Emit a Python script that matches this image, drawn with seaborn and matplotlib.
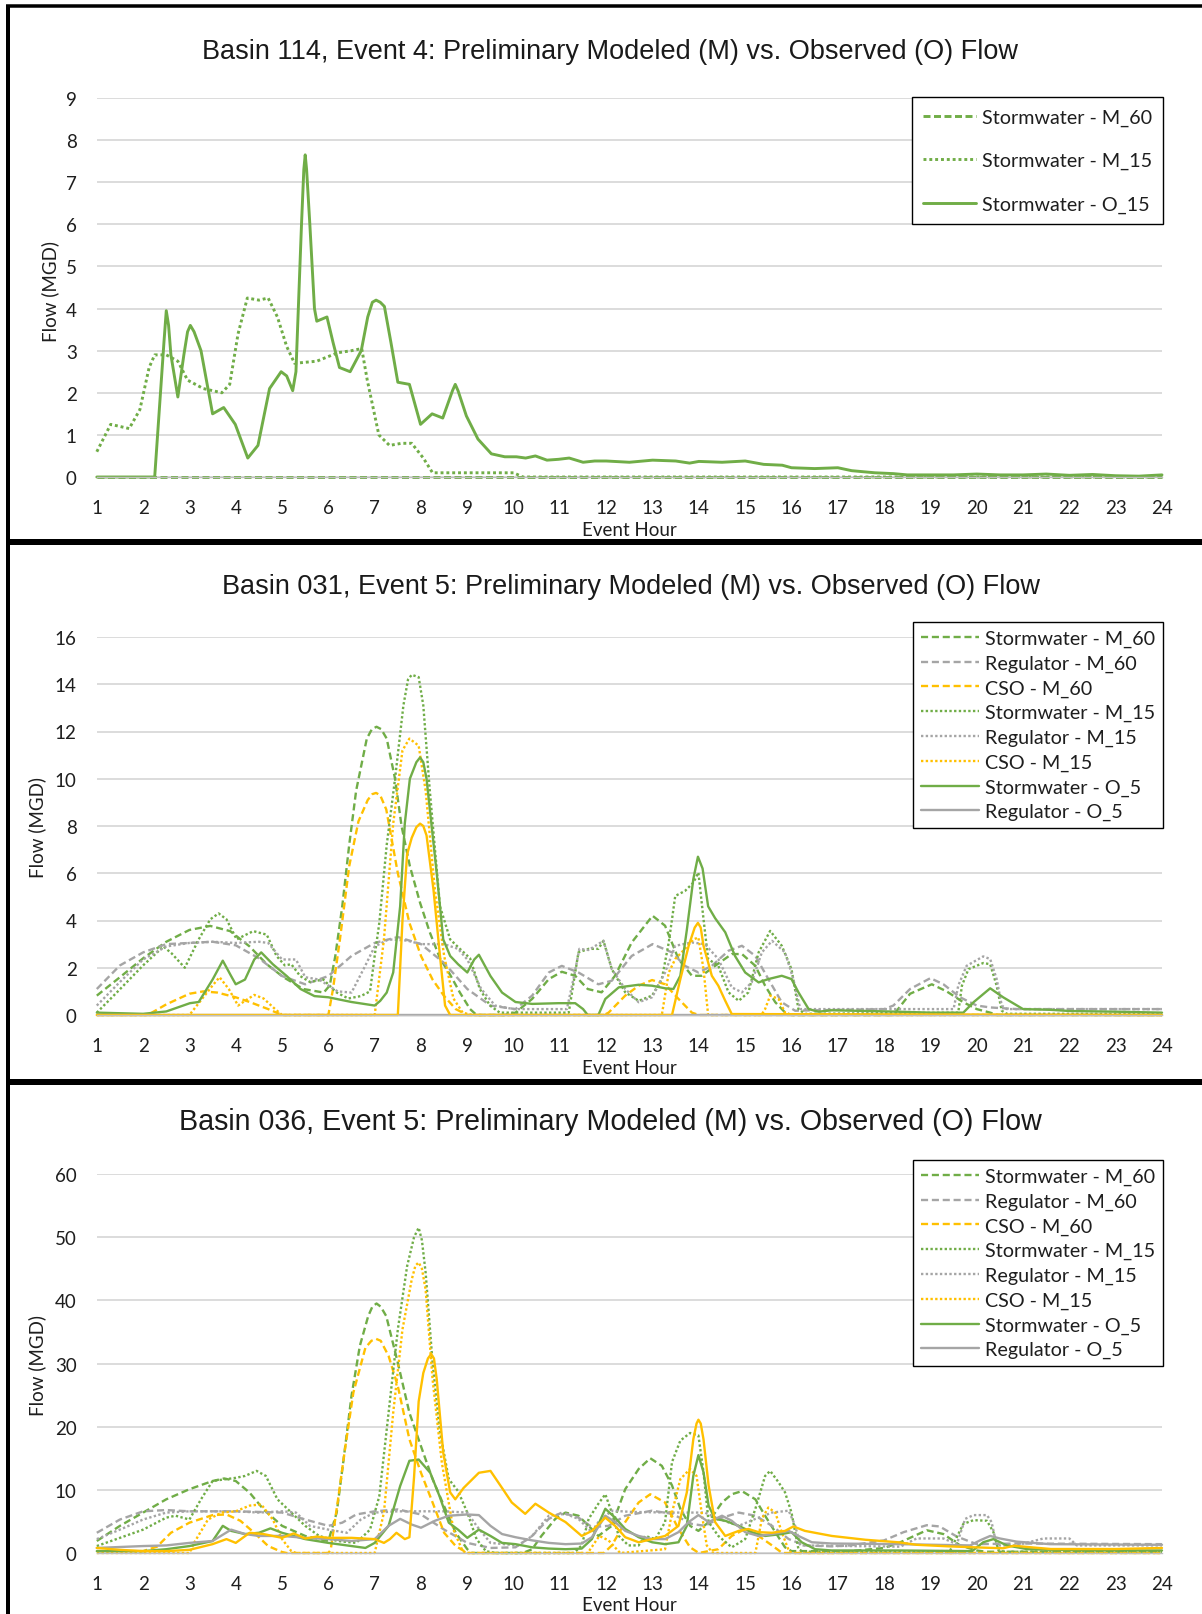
import matplotlib
matplotlib.use("Agg")
import matplotlib.pyplot as plt
from matplotlib.lines import Line2D
import seaborn as sns

# ---------------- Basin 114, Event 4 ----------------
B114_SW_M60_H = [1, 24]
B114_SW_M60_Q = [0, 0]

B114_SW_M15_H = [1, 1.3, 1.7, 1.93, 2.13, 2.25, 2.5, 2.75, 2.96, 3.3, 3.7, 3.87, 4.05, 4.25, 4.5, 4.7,
                 4.9, 5.1, 5.27, 5.75, 6.2, 6.5, 6.72, 6.84, 7.09, 7.32, 7.58, 7.8, 8.05, 8.25, 10.0,
                 10.2, 24]
B114_SW_M15_Q = [0.6, 1.25, 1.15, 1.6, 2.6, 2.9, 2.9, 2.75, 2.3, 2.1, 2.0, 2.2, 3.4, 4.25, 4.2, 4.25,
                 3.8, 3.1, 2.7, 2.75, 2.95, 3.0, 3.05, 2.3, 1.0, 0.75, 0.8, 0.8, 0.45, 0.1, 0.1,
                 0, 0]

B114_SW_O15_H = [1, 2.25, 2.45, 2.5, 2.55, 2.6, 2.75, 2.88, 2.96, 3.02, 3.1, 3.25, 3.5, 3.74, 3.99,
                 4.26, 4.48, 4.73, 4.98, 5.1, 5.23, 5.3, 5.42, 5.47, 5.5, 5.53, 5.6, 5.7, 5.75, 5.97,
                 6.1, 6.24, 6.47, 6.71, 6.85, 6.95, 7.03, 7.12, 7.21, 7.35, 7.5, 7.75, 7.99, 8.24,
                 8.47, 8.68, 8.74, 8.8, 8.98, 9.23, 9.52, 9.81, 10.06, 10.26, 10.47, 10.72, 10.97,
                 11.2, 11.5, 11.75, 12.0, 12.5, 13.0, 13.5, 13.8, 14.0, 14.5, 15.0, 15.4, 15.8,
                 16.0, 16.5, 17.0, 17.3, 17.8, 18.2, 18.5, 19.0, 19.5, 20.0, 20.5, 21.0, 21.5,
                 22.0, 22.5, 23.0, 23.5, 24.0]
B114_SW_O15_Q = [0, 0, 3.2, 3.95, 3.6, 2.9, 1.9, 2.9, 3.45, 3.6, 3.45, 3.0, 1.5, 1.65, 1.25,
                 0.45, 0.75, 2.1, 2.5, 2.4, 2.05, 2.5, 6.0, 7.3, 7.65, 7.3, 6.0, 4.0, 3.7, 3.8,
                 3.2, 2.6, 2.5, 3.0, 3.8, 4.15, 4.2, 4.15, 4.05, 3.2, 2.25, 2.2, 1.25, 1.5,
                 1.4, 2.05, 2.2, 2.05, 1.45, 0.9, 0.55, 0.48, 0.48, 0.45, 0.5, 0.4, 0.42,
                 0.45, 0.35, 0.38, 0.38, 0.35, 0.4, 0.38, 0.33, 0.37, 0.35, 0.38, 0.3, 0.28,
                 0.22, 0.2, 0.22, 0.15, 0.1, 0.08, 0.05, 0.05, 0.05, 0.07, 0.05, 0.05, 0.07,
                 0.04, 0.06, 0.03, 0.02, 0.05]

# ---------------- Basin 031, Event 5 ----------------
B031_SW_M60_H = [1, 1.5, 2, 2.5, 3, 3.45, 3.88, 4.3, 4.67, 5.03, 5.46, 5.9, 6.03, 6.15, 6.3, 6.45,
                 6.6, 6.83, 6.94, 7.04, 7.14, 7.26, 7.44, 7.58, 7.76, 7.98, 8.19, 8.41, 8.63, 8.84,
                 9.06, 9.2, 9.8, 10.04, 10.4, 10.76, 11.04, 11.33, 11.6, 11.9, 12.19, 12.55, 13.0,
                 13.27, 13.56, 13.85, 14.06, 14.35, 14.71, 14.93, 15.22, 15.43, 15.65, 15.86, 16.0,
                 18.2, 18.56, 19.03, 19.35, 19.71, 20.0, 20.29, 20.45, 24]
B031_SW_M60_Q = [0.82, 1.6, 2.4, 3.1, 3.6, 3.77, 3.55, 2.9, 2.15, 1.6, 1.1, 0.95, 1.25, 2.5, 4.6, 7.2,
                 9.5, 11.7, 12.1, 12.2, 12.1, 11.7, 10.0, 8.0, 6.3, 4.75, 3.5, 2.4, 1.7, 0.95,
                 0.25, 0, 0, 0.1, 0.68, 1.52, 1.83, 1.66, 1.1, 0.96, 1.66, 3.07, 4.2,
                 3.78, 2.37, 1.66, 1.66, 2.08, 2.58, 2.58, 2.08, 1.24, 0.54, 0.11, 0,
                 0, 0.9, 1.3, 1.0, 0.54, 0.25, 0.1, 0, 0]

B031_RG_M60_H = [1, 1.5, 2, 2.5, 3, 3.5, 4, 4.5, 5, 5.5, 6, 6.5, 7, 7.5, 8, 8.5, 9, 9.5, 10.04,
                 10.4, 10.76, 11.04, 11.4, 11.83, 12.12, 12.55, 13.0, 13.42, 13.7, 13.99, 14.28,
                 14.64, 14.93, 15.22, 15.5, 15.79, 16.08, 16.5, 18.0, 18.2, 18.56, 19.0, 19.28,
                 19.64, 20.0, 20.29, 20.86, 24]
B031_RG_M60_Q = [1.1, 2.1, 2.65, 3.0, 3.05, 3.1, 2.95, 2.4, 1.65, 1.3, 1.65, 2.5, 3.05, 3.3, 3.0, 2.2,
                 1.1, 0.4, 0.25, 0.82, 1.8, 2.08, 1.8, 1.3, 1.45, 2.5, 3.0, 2.65, 2.08, 1.8, 2.08,
                 2.72, 2.93, 2.5, 1.52, 0.54, 0.18, 0.2, 0.25, 0.4, 1.1, 1.56, 1.3, 0.75, 0.4,
                 0.32, 0.25, 0.25]

B031_CSO_M60_H = [1, 2.1, 2.5, 3.0, 3.3, 3.6, 4.0, 4.3, 4.7, 5.0, 6.0, 6.1, 6.25, 6.45, 6.65, 6.85,
                  6.95, 7.03, 7.12, 7.25, 7.5, 7.75, 8.0, 8.25, 8.5, 8.75, 9.0, 11.95, 12.05, 12.41,
                  12.7, 12.99, 13.27, 13.56, 13.85, 14.0, 24]
B031_CSO_M60_Q = [0, 0, 0.45, 0.9, 1.0, 0.95, 0.75, 0.55, 0.25, 0, 0, 1.1, 3.2, 6.3, 8.2, 9.1,
                  9.35, 9.4, 9.3, 8.7, 6.0, 3.9, 2.5, 1.5, 0.8, 0.25, 0, 0, 0.1, 0.82,
                  1.24, 1.48, 1.3, 0.68, 0.1, 0, 0]

B031_SW_M15_H = [1, 1.43, 2, 2.44, 2.62, 2.9, 3.2, 3.45, 3.63, 3.8, 4.02, 4.17, 4.38, 4.67, 4.88,
                 5.06, 5.2, 5.39, 5.6, 5.89, 6.18, 6.43, 6.7, 6.9, 7.0, 7.1, 7.26, 7.44, 7.62, 7.72,
                 7.8, 7.95, 8.05, 8.19, 8.41, 8.63, 8.84, 9.06, 9.27, 9.49, 9.7, 11.19, 11.4, 11.62,
                 11.83, 11.94, 12.12, 12.41, 12.7, 12.99, 13.2, 13.35, 13.49, 13.7, 13.88, 13.99,
                 14.1, 14.2, 14.42, 14.64, 14.86, 15.07, 15.29, 15.54, 15.79, 16.0, 16.15, 16.29,
                 19.6, 19.68, 19.82, 20.14, 20.29, 20.43, 20.54, 20.65, 24]
B031_SW_M15_Q = [0.1, 0.95, 2.1, 2.9, 2.6, 2.0, 3.2, 4.05, 4.3, 4.05, 3.2, 3.35, 3.55, 3.4, 2.5,
                 2.1, 2.15, 1.65, 1.4, 1.5, 0.95, 0.7, 0.8, 1.0, 2.5, 3.9, 7.2, 10.0, 13.1, 14.2,
                 14.4, 14.3, 13.1, 9.5, 4.6, 3.2, 2.8, 2.4, 1.1, 0.4, 0.1, 0.1, 2.65, 2.8,
                 2.8, 3.14, 1.94, 0.96, 0.6, 0.82, 1.52, 3.07, 5.04, 5.25, 5.6, 6.03,
                 4.06, 2.37, 2.08, 0.96, 0.6, 0.96, 2.65, 3.56, 2.93, 1.94, 0.25, 0.05,
                 0.1, 1.24, 1.94, 2.2, 2.15, 1.24, 0.18, 0.05, 0.05]

B031_RG_M15_H = [1, 1.5, 2, 2.5, 3, 3.5, 4, 4.5, 4.7, 5.0, 5.3, 5.5, 5.8, 6.2, 6.5, 6.8, 7.0, 7.3,
                 7.7, 8.0, 8.5, 8.8, 9.0, 9.3, 9.6, 10.0, 11.15, 11.3, 11.42, 11.62, 11.94, 12.12,
                 12.41, 12.7, 12.99, 13.27, 13.49, 13.85, 14.13, 14.42, 14.71, 14.93, 15.14, 15.36,
                 15.58, 15.86, 16.04, 16.19, 16.3, 19.5, 19.6, 19.78, 20.14, 20.29, 20.43, 20.54,
                 20.65, 24]
B031_RG_M15_Q = [0.4, 1.4, 2.35, 2.9, 3.05, 3.1, 3.05, 3.1, 3.05, 2.35, 2.35, 1.6, 1.5, 1.0, 0.95,
                 2.1, 2.9, 3.2, 3.15, 3.0, 3.0, 2.8, 2.35, 1.1, 0.4, 0.25, 0.25, 1.6, 2.8, 2.75,
                 3.14, 1.94, 1.1, 0.54, 0.75, 1.8, 2.93, 3.07, 3.0, 2.37, 1.17, 0.96, 1.38, 2.65,
                 3.14, 2.65, 1.52, 0.25, 0.25, 0.25, 1.24, 2.08, 2.48, 2.37, 1.52, 0.4, 0.25, 0.25]

B031_CSO_M15_H = [1, 3.0, 3.2, 3.5, 3.65, 3.85, 4.05, 4.2, 4.4, 4.6, 4.85, 5.0, 7.0, 7.2, 7.4, 7.6,
                  7.75, 7.95, 8.1, 8.3, 8.5, 8.7, 8.9, 9.1, 13.2, 13.35, 13.49, 13.7, 13.88, 13.99,
                  14.1, 14.2, 15.35, 15.43, 15.54, 15.72, 15.86, 16.0, 24]
B031_CSO_M15_Q = [0, 0, 0.5, 1.25, 1.6, 1.1, 0.4, 0.6, 0.85, 0.7, 0.25, 0, 0, 3.2, 8.1, 11.2,
                  11.7, 11.4, 9.5, 5.3, 2.5, 0.7, 0.1, 0, 0, 1.8, 2.37, 2.8, 3.2, 3.28,
                  1.94, 0, 0, 0.25, 0.82, 0.68, 0.1, 0, 0]

B031_SW_O5_H = [1, 2, 2.5, 3.01, 3.2, 3.5, 3.72, 3.9, 4.0, 4.2, 4.4, 4.55, 4.8, 5.1, 5.4, 5.7, 6.0,
                6.5, 7.0, 7.12, 7.26, 7.4, 7.55, 7.65, 7.76, 7.9, 7.98, 8.05, 8.12, 8.34, 8.48,
                8.63, 8.8, 9.0, 9.15, 9.25, 9.5, 9.75, 10.04, 10.4, 10.97, 11.33, 11.5, 11.6, 11.83,
                11.98, 12.27, 12.7, 12.99, 13.27, 13.45, 13.6, 13.74, 13.88, 13.98, 14.08, 14.2,
                14.35, 14.57, 14.78, 15.0, 15.29, 15.5, 15.79, 16.0, 16.15, 16.37, 16.58, 16.87,
                17.6, 18.3, 19.0, 19.71, 19.93, 20.29, 20.57, 21.0, 21.58, 22.0, 23.0, 24]
B031_SW_O5_Q = [0.1, 0.05, 0.15, 0.5, 0.55, 1.5, 2.3, 1.65, 1.3, 1.5, 2.35, 2.65, 2.15, 1.65, 1.1,
                0.8, 0.75, 0.55, 0.4, 0.6, 0.95, 1.8, 4.6, 8.1, 10.0, 10.7, 10.9, 10.7, 10.0, 6.0,
                3.2, 2.5, 2.15, 1.8, 2.35, 2.55, 1.65, 0.95, 0.55, 0.47, 0.5, 0.5, 0.25, 0, 0,
                0.68, 1.17, 1.28, 1.24, 1.13, 1.1, 1.66, 3.6, 5.75, 6.7, 6.2, 4.6,
                4.1, 3.5, 2.5, 1.8, 1.38, 1.52, 1.66, 1.52, 0.96, 0.25, 0.14, 0.2,
                0.17, 0.14, 0.1, 0.1, 0.54, 1.13, 0.75, 0.25, 0.22, 0.17, 0.14, 0.1]

B031_RG_O5_H = [1, 24]
B031_RG_O5_Q = [0, 0]

B031_CSO_O5_H = [1, 7.5, 7.6, 7.7, 7.8, 7.9, 7.98, 8.05, 8.12, 8.27, 8.41, 8.52, 8.63, 13.42, 13.6,
                 13.78, 13.91, 13.98, 14.04, 14.1, 14.28, 14.42, 14.57, 14.71, 24]
B031_CSO_O5_Q = [0, 0, 4.0, 6.8, 7.5, 7.95, 8.1, 8.0, 7.6, 5.3, 2.5, 0.4, 0, 0, 1.52,
                 2.93, 3.7, 3.9, 3.7, 2.93, 1.66, 1.24, 0.6, 0.04, 0]

# ---------------- Basin 036, Event 5 ----------------
B036_SW_M60_H = [1, 1.5, 2, 2.5, 3, 3.5, 3.75, 4, 4.3, 4.6, 5, 5.5, 6, 6.18, 6.32, 6.5, 6.68, 6.86,
                 6.95, 7.04, 7.13, 7.25, 7.5, 7.75, 8, 8.25, 8.5, 8.75, 9.0, 9.1, 10.2, 10.4, 10.6,
                 10.9, 11.12, 11.4, 11.62, 11.83, 12.12, 12.41, 12.7, 12.95, 13.2, 13.42, 13.6,
                 13.81, 13.99, 14.21, 14.5, 14.71, 14.93, 15.22, 15.43, 15.65, 15.86, 16.0, 17.27,
                 18.0, 18.35, 18.92, 19.28, 19.64, 20.0, 20.2, 24]
B036_SW_M60_Q = [1.9, 4.3, 6.4, 8.5, 10.1, 11.4, 11.8, 11.4, 9.55, 6.9, 4.3, 2.7, 1.9, 6.4, 14.3,
                 24.9, 32.8, 37.5, 39.0, 39.5, 39.0, 37.5, 30.1, 22.2, 16.9, 11.7, 7.4, 3.2, 0.6, 0,
                 0, 0.6, 2.7, 5.4, 6.4, 5.9, 4.3, 2.7, 4.3, 10.1, 13.3, 15.0, 13.8, 10.7, 7.0,
                 4.3, 3.5, 4.9, 8.0, 9.3, 9.8, 8.5, 5.9, 3.3, 0.9, 0.3, 0.3, 0.8, 1.7, 3.6, 3.0,
                 1.2, 0.4, 0.2, 0.2]

B036_RG_M60_H = [1, 1.5, 2, 2.5, 3, 4, 5, 5.5, 6, 6.3, 6.6, 7, 7.5, 8, 8.5, 9, 9.5, 10.04, 10.4,
                 10.76, 11.04, 11.4, 11.69, 12.05, 12.41, 12.99, 13.42, 13.85, 14.13, 14.42, 14.86,
                 15.22, 15.58, 15.94, 16.29, 16.87, 17.27, 18.0, 18.42, 18.92, 19.2, 19.57, 20.0,
                 20.86, 24]
B036_RG_M60_Q = [3.2, 5.3, 6.6, 6.8, 6.6, 6.6, 6.4, 5.3, 4.3, 4.8, 6.1, 6.6, 6.9, 6.1, 3.7, 1.6,
                 0.8, 0.9, 2.7, 5.4, 6.4, 5.6, 4.1, 4.3, 5.9, 6.7, 6.2, 4.6, 4.3, 5.4, 6.4, 5.9,
                 4.3, 2.2, 1.2, 1.05, 1.2, 2.0, 3.3, 4.4, 4.2, 2.6, 1.4, 1.5, 1.4]

B036_CSO_M60_H = [1, 2, 2.3, 2.6, 3, 3.5, 3.8, 4.1, 4.4, 4.7, 5.0, 5.1, 6.0, 6.05, 6.2, 6.35, 6.54,
                  6.8, 6.93, 7.03, 7.13, 7.3, 7.5, 7.75, 8.0, 8.25, 8.5, 8.75, 9.0, 11.95, 12.12,
                  12.41, 12.7, 12.95, 13.27, 13.56, 13.81, 14.0, 14.42, 14.71, 15.0, 15.29, 15.58,
                  15.8, 24]
B036_CSO_M60_Q = [0.3, 0.3, 1.0, 3.2, 4.8, 6.0, 6.1, 5.1, 3.2, 1.1, 0.15, 0, 0, 0.5, 8.0, 16.0,
                  25.4, 32.5, 33.6, 33.9, 33.6, 31.2, 26.4, 18.0, 12.7, 8.0, 3.2, 1.1, 0, 0, 1.2,
                  4.9, 8.0, 9.3, 8.0, 3.8, 0.9, 0, 0.6, 2.7, 3.8, 2.7, 1.2,
                  0, 0]

B036_SW_M15_H = [1, 1.5, 2, 2.5, 2.7, 3.0, 3.25, 3.5, 4.0, 4.2, 4.45, 4.65, 4.9, 5.2, 5.5, 5.8, 6.2,
                 6.6, 6.9, 7.1, 7.3, 7.5, 7.7, 7.85, 7.95, 8.02, 8.1, 8.25, 8.4, 8.6, 8.8, 9.0, 9.2,
                 9.4, 9.6, 11.3, 11.47, 11.62, 11.83, 11.98, 12.12, 12.27, 12.48, 12.7, 12.84,
                 13.06, 13.27, 13.42, 13.6, 13.81, 13.99, 14.1, 14.21, 14.42, 14.71, 15.0, 15.22,
                 15.43, 15.54, 15.72, 15.86, 16.0, 16.15, 16.25, 19.42, 19.71, 19.93, 20.22, 20.36,
                 20.47, 20.6, 24]
B036_SW_M15_Q = [1.1, 2.4, 3.7, 5.6, 5.9, 5.3, 8.5, 11.4, 11.9, 12.2, 13.0, 12.2, 8.5, 6.4, 4.3, 2.7,
                 1.9, 1.6, 3.7, 9.0, 22.2, 35.4, 45.4, 50.0, 51.5, 49.5, 44.4, 30.1, 19.6, 11.7, 9.8,
                 6.4, 2.2, 0.3, 0, 0, 1.2, 5.4, 7.8, 9.3, 6.4, 2.7, 1.2, 1.2, 2.7,
                 2.2, 4.9, 14.4, 17.8, 19.0, 18.6, 12.8, 4.9, 2.7, 0.9, 2.2, 7.0,
                 12.2, 13.0, 11.2, 9.6, 6.4, 0.6, 0.2, 0.3, 4.6, 5.2, 5.1, 3.3,
                 0.4, 0.2, 0.2]

B036_RG_M15_H = [1, 1.5, 2, 2.5, 3, 4, 4.5, 5, 5.3, 5.6, 6, 6.4, 6.7, 7, 7.5, 8.5, 9, 9.2, 9.5,
                 10.1, 10.4, 10.76, 11.12, 11.4, 11.69, 11.83, 12.12, 12.55, 13.42, 14.13, 14.42,
                 14.86, 15.22, 15.58, 15.94, 16.08, 16.19, 18.35, 18.7, 19.28, 19.57, 19.75, 19.93,
                 20.22, 20.32, 20.43, 20.86, 21.44, 22.0, 22.16, 24]
B036_RG_M15_Q = [2.2, 3.7, 5.3, 6.4, 6.6, 6.6, 6.4, 6.6, 6.4, 4.3, 3.7, 3.2, 5.3, 6.4, 6.6, 6.6, 6.4,
                 4.3, 1.6, 1.2, 2.7, 5.9, 6.2, 5.4, 3.3, 4.9, 6.7, 6.5, 6.4, 6.4, 5.4, 4.3, 5.4,
                 6.4, 6.7, 4.3, 1.2, 1.0, 2.3, 2.3, 1.4, 5.4, 6.0, 6.0, 4.9, 1.2, 1.2, 2.3, 2.3,
                 1.2, 1.2]

B036_CSO_M15_H = [1, 3, 3.1, 3.4, 3.7, 4.0, 4.3, 4.55, 4.8, 5.0, 5.2, 5.3, 7.0, 7.2, 7.4, 7.6, 7.8,
                  7.88, 7.95, 8.02, 8.1, 8.25, 8.45, 8.7, 8.9, 9.0, 11.6, 11.85, 12.05, 12.3, 13.27,
                  13.42, 13.6, 13.81, 13.95, 14.06, 14.17, 14.3, 15.22, 15.36, 15.5, 15.65, 15.79,
                  15.94, 16.0, 24]
B036_CSO_M15_Q = [0, 0, 1.6, 5.3, 6.4, 6.6, 7.5, 7.7, 5.3, 2.2, 0.3, 0, 0, 6.4, 22.2, 35.4, 43.3,
                  45.5, 46.0, 45.0, 41.7, 27.5, 14.3, 3.7, 0.3, 0, 0, 2.7, 2.0, 0, 0.6,
                  6.4, 11.7, 13.3, 12.2, 6.4, 1.2, 0, 0, 5.4, 7.2, 6.4, 3.3,
                  0.4, 0, 0]

B036_SW_O5_H = [1, 2, 2.5, 3, 3.5, 3.72, 3.9, 4.2, 4.5, 4.75, 5, 5.5, 6, 6.5, 6.8, 7.0, 7.3, 7.55,
                7.75, 7.95, 8.2, 8.4, 8.6, 8.8, 9.0, 9.25, 9.5, 9.75, 10.04, 10.4, 10.76, 11.12,
                11.47, 11.69, 11.98, 12.19, 12.41, 12.7, 12.99, 13.27, 13.56, 13.74, 13.88, 13.99,
                14.1, 14.21, 14.35, 14.57, 14.86, 15.14, 15.43, 15.79, 16.0, 16.22, 16.51, 16.87,
                18.3, 19.9, 20.14, 20.36, 20.65, 21.1, 22.3, 24]
B036_SW_O5_Q = [0.3, 0.3, 0.6, 1.1, 1.9, 4.3, 3.5, 3.0, 3.2, 3.9, 3.2, 2.2, 1.6, 1.1, 0.8, 1.6, 4.3,
                10.6, 14.6, 14.8, 12.7, 9.0, 4.8, 3.7, 2.4, 3.7, 2.7, 1.6, 1.4, 0.9, 0.7, 0.6,
                0.7, 2.2, 7.0, 5.6, 3.8, 2.5, 1.7, 1.4, 1.7, 4.3, 12.2, 15.5,
                12.8, 7.5, 5.4, 5.1, 4.3, 3.3, 2.7, 3.0, 3.3, 1.7, 0.6, 0.4,
                0.4, 0.3, 1.7, 2.2, 1.2, 0.6, 0.4, 0.4]

B036_RG_O5_H = [1, 2, 2.5, 3, 3.5, 3.9, 4.2, 4.5, 5, 5.5, 6, 6.5, 7, 7.3, 7.55, 7.8, 8.0, 8.3, 8.6,
                9.0, 9.25, 9.5, 9.75, 10.04, 10.4, 10.76, 11.12, 11.47, 11.69, 11.98, 12.19, 12.41,
                12.7, 12.99, 13.27, 13.56, 13.78, 13.99, 14.21, 14.5, 14.71, 15.0, 15.29, 15.58,
                15.94, 16.15, 16.44, 16.87, 18.3, 19.86, 20.07, 20.29, 20.5, 20.86, 21.58, 24]
B036_RG_O5_Q = [0.8, 1.1, 1.2, 1.6, 1.9, 3.7, 3.0, 2.7, 2.7, 2.4, 2.2, 1.9, 2.2, 4.3, 5.4, 4.5, 4.0,
                5.1, 5.9, 6.1, 6.0, 4.3, 3.0, 2.5, 2.0, 1.6, 1.4, 1.5, 2.5, 5.9, 4.9, 3.5,
                2.7, 2.2, 2.2, 3.3, 4.9, 6.0, 4.9, 5.9, 5.1, 3.3, 2.7, 3.0,
                3.5, 2.7, 1.7, 1.5, 1.4, 1.2, 2.0, 2.7, 2.3, 1.8, 1.4, 1.3]

B036_CSO_O5_H = [1, 1.5, 2, 2.5, 3, 3.5, 3.8, 4.0, 4.3, 4.6, 5, 5.25, 5.5, 5.75, 6.0, 6.5, 7.0, 7.2,
                 7.33, 7.47, 7.65, 7.75, 7.85, 7.95, 8.05, 8.15, 8.22, 8.28, 8.34, 8.48, 8.63, 8.74,
                 8.92, 9.25, 9.5, 9.75, 9.96, 10.25, 10.47, 10.76, 11.12, 11.47, 11.69, 11.98,
                 12.19, 12.41, 12.7, 12.99, 13.27, 13.56, 13.74, 13.88, 13.95, 13.99, 14.04, 14.1,
                 14.21, 14.35, 14.57, 14.86, 15.07, 15.29, 15.58, 15.86, 16.04, 16.29, 16.87, 17.59,
                 18.3, 18.7, 19.4, 20.14, 20.57, 20.8, 21.1, 21.6, 23.0, 24]
B036_CSO_O5_Q = [0.8, 0.5, 0.3, 0.3, 0.5, 1.4, 2.2, 1.6, 3.2, 3.0, 2.4, 3.1, 2.3, 2.6, 2.4, 2.4,
                 2.2, 1.6, 2.2, 3.2, 2.2, 2.5, 12.0, 24.0, 28.5, 30.8, 31.5, 30.8, 27.5, 15.9, 9.6,
                 8.5, 10.3, 12.7, 13.0, 10.3, 8.0, 6.2, 7.8, 6.4, 4.9, 2.7, 3.5, 5.6,
                 4.3, 2.5, 1.7, 2.2, 2.7, 4.3, 9.6, 18.0, 20.5, 21.1, 20.5, 18.0,
                 10.7, 4.9, 2.7, 3.5, 3.8, 3.3, 3.2, 3.5, 4.2, 3.5, 2.7, 2.1,
                 1.7, 1.3, 1.05, 0.85, 0.75, 1.15, 0.95, 0.63, 0.63, 0.8]

HOURS = list(range(1, 25))
GREEN, GRAY, GOLD = "#70AD47", "#A5A5A5", "#FFC000"

# ---------------- figure ----------------
sns.set_style("white")
plt.rcParams["font.family"] = ["Lato", "DejaVu Sans"]

W, H = 1202, 1615
fig = plt.figure(figsize=(W / 100, H / 100), dpi=100)
fig.patch.set_facecolor("white")

TICK_FS = 13.5
LEG_FS = 14.2
TEXT_COLOR = "#1e1e1e"


def add_axes_px(left, top, right, bottom):
    return fig.add_axes([left / W, 1 - bottom / H, (right - left) / W, (bottom - top) / H])


def draw(ax, hours, flow, color, style, lw, label, dash=(3.0, 1.6)):
    linestyles = {"dash": (0, dash), "dot": (0, (1.0, 1.0)), "solid": "-"}
    sns.lineplot(x=hours, y=flow, ax=ax, color=color, linestyle=linestyles[style],
                 linewidth=lw, label=label, sort=False, estimator=None, errorbar=None,
                 legend=False, clip_on=False, solid_joinstyle="round")


def style_axes(ax, ymax, ystep):
    ax.set_xlim(1, 24)
    ax.set_ylim(0, ymax)
    ax.set_xticks(HOURS)
    ax.set_yticks(range(0, ymax + 1, ystep))
    ax.set_xlabel("")
    ax.set_ylabel("")
    for s in ("top", "right", "left"):
        ax.spines[s].set_visible(False)
    ax.spines["bottom"].set_color("#BFBFBF")
    ax.spines["bottom"].set_linewidth(1.0)
    ax.yaxis.grid(True, color="#D9D9D9", linewidth=1.3)
    ax.xaxis.grid(False)
    ax.set_axisbelow(True)
    ax.tick_params(axis="x", direction="in", length=6, width=1.2, color="#404040",
                   labelsize=TICK_FS, labelcolor=TEXT_COLOR, pad=16)
    ax.tick_params(axis="y", length=0, labelsize=TICK_FS, labelcolor=TEXT_COLOR, pad=14.4)


def add_legend(ax, n, top_frac, labelspacing, borderpad, handlelength):
    handles = ax.get_lines()[:n]
    leg = ax.legend(handles=handles, labels=[h.get_label() for h in handles],
                    loc="upper right", bbox_to_anchor=(1.001, top_frac), borderaxespad=0,
                    frameon=True, fancybox=False, framealpha=1, edgecolor="black",
                    fontsize=LEG_FS, labelspacing=labelspacing, handlelength=handlelength,
                    handletextpad=0.3, borderpad=borderpad)
    leg.get_frame().set_linewidth(1.0)
    for t in leg.get_texts():
        t.set_color(TEXT_COLOR)


def add_texts(title, title_x, title_base, title_fs, ylab_x, ylab_y, xlab_y):
    fig.text(title_x / W, 1 - title_base / H, title, ha="center", va="baseline",
             fontsize=title_fs, family=["Liberation Sans", "DejaVu Sans"], color="#1a1a1a")
    fig.text(ylab_x / W, 1 - ylab_y / H, "Flow (MGD)", rotation=90, ha="center", va="center",
             fontsize=TICK_FS, color=TEXT_COLOR)
    fig.text(629 / W, 1 - xlab_y / H, "Event Hour", ha="center", va="center",
             fontsize=TICK_FS, color=TEXT_COLOR)


# Panel 1: Basin 114
ax1 = add_axes_px(96.8, 99, 1162, 478)
LW1 = 2.1
draw(ax1, B114_SW_M60_H, B114_SW_M60_Q, GREEN, "dash", LW1, "Stormwater - M_60", dash=(2.4, 1.2))
draw(ax1, B114_SW_M15_H, B114_SW_M15_Q, GREEN, "dot", LW1, "Stormwater - M_15")
draw(ax1, B114_SW_O15_H, B114_SW_O15_Q, GREEN, "solid", LW1, "Stormwater - O_15")
style_axes(ax1, 9, 1)
add_legend(ax1, 3, 1.0026, 1.33, 0.58, 2.66)
add_texts("Basin 114, Event 4: Preliminary Modeled (M) vs. Observed (O) Flow",
          610.5, 59, 19.5, 50, 291, 530)

# Panels 2 and 3 share the same series layout
LW2 = 1.7


def draw_full(ax, d):
    draw(ax, d["sw_m60"][0], d["sw_m60"][1], GREEN, "dash", LW2, "Stormwater - M_60")
    draw(ax, d["rg_m60"][0], d["rg_m60"][1], GRAY, "dash", LW2, "Regulator - M_60")
    draw(ax, d["cso_m60"][0], d["cso_m60"][1], GOLD, "dash", LW2, "CSO - M_60")
    draw(ax, d["sw_m15"][0], d["sw_m15"][1], GREEN, "dot", LW2, "Stormwater - M_15")
    draw(ax, d["rg_m15"][0], d["rg_m15"][1], GRAY, "dot", LW2, "Regulator - M_15")
    draw(ax, d["cso_m15"][0], d["cso_m15"][1], GOLD, "dot", LW2, "CSO - M_15")
    draw(ax, d["sw_o5"][0], d["sw_o5"][1], GREEN, "solid", LW2, "Stormwater - O_5")
    draw(ax, d["rg_o5"][0], d["rg_o5"][1], GRAY, "solid", LW2, "Regulator - O_5")
    draw(ax, d["cso_o5"][0], d["cso_o5"][1], GOLD, "solid", LW2, "CSO - O_5")


ax2 = add_axes_px(96.8, 638, 1162, 1016)
draw_full(ax2, {
    "sw_m60": (B031_SW_M60_H, B031_SW_M60_Q), "rg_m60": (B031_RG_M60_H, B031_RG_M60_Q),
    "cso_m60": (B031_CSO_M60_H, B031_CSO_M60_Q), "sw_m15": (B031_SW_M15_H, B031_SW_M15_Q),
    "rg_m15": (B031_RG_M15_H, B031_RG_M15_Q), "cso_m15": (B031_CSO_M15_H, B031_CSO_M15_Q),
    "sw_o5": (B031_SW_O5_H, B031_SW_O5_Q), "rg_o5": (B031_RG_O5_H, B031_RG_O5_Q),
    "cso_o5": (B031_CSO_O5_H, B031_CSO_O5_Q)})
style_axes(ax2, 16, 2)
add_legend(ax2, 8, 1.0397, 0.38, 0.4, 2.95)
add_texts("Basin 031, Event 5: Preliminary Modeled (M) vs. Observed (O) Flow",
          630.5, 594, 19.5, 37, 828, 1068.6)

ax3 = add_axes_px(96.8, 1175, 1162, 1554)
draw_full(ax3, {
    "sw_m60": (B036_SW_M60_H, B036_SW_M60_Q), "rg_m60": (B036_RG_M60_H, B036_RG_M60_Q),
    "cso_m60": (B036_CSO_M60_H, B036_CSO_M60_Q), "sw_m15": (B036_SW_M15_H, B036_SW_M15_Q),
    "rg_m15": (B036_RG_M15_H, B036_RG_M15_Q), "cso_m15": (B036_CSO_M15_H, B036_CSO_M15_Q),
    "sw_o5": (B036_SW_O5_H, B036_SW_O5_Q), "rg_o5": (B036_RG_O5_H, B036_RG_O5_Q),
    "cso_o5": (B036_CSO_O5_H, B036_CSO_O5_Q)})
style_axes(ax3, 60, 10)
add_legend(ax3, 8, 1.037, 0.38, 0.4, 2.95)
add_texts("Basin 036, Event 5: Preliminary Modeled (M) vs. Observed (O) Flow",
          610.5, 1130.5, 20.6, 37, 1366, 1605.6)


# Chart frames around each panel
def frame_line(x0, y0, x1, y1, lw_px):
    fig.add_artist(Line2D([x0 / W, x1 / W], [1 - y0 / H, 1 - y1 / H], color="black",
                          linewidth=lw_px * 0.72, transform=fig.transFigure,
                          solid_capstyle="butt"))


frame_line(7.5, 7, 7.5, H + 5, 4)
frame_line(5.5, 7, W + 5, 7, 3.5)
frame_line(5.5, 543, W + 5, 543, 6)
frame_line(5.5, 1083, W + 5, 1083, 6)

fig.savefig("out.png", dpi=100, facecolor="white")
